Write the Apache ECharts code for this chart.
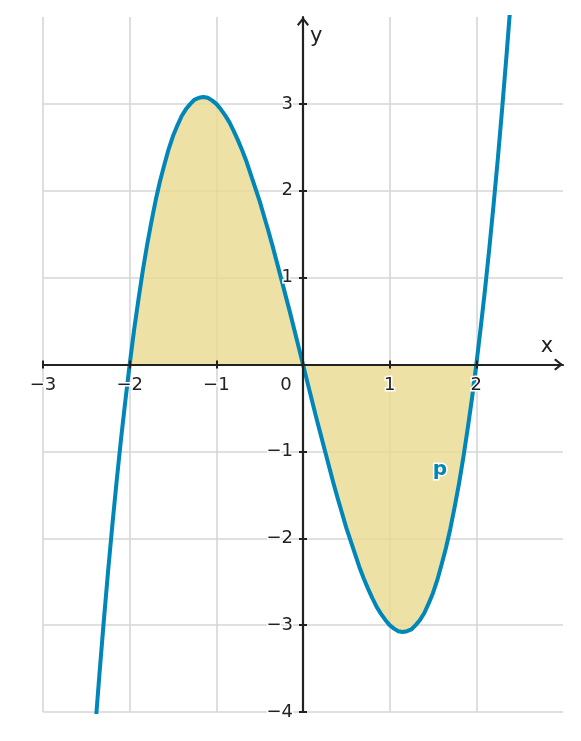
<!DOCTYPE html>
<html>
<head>
<meta charset="utf-8">
<script src="https://cdn.jsdelivr.net/npm/echarts@6/dist/echarts.min.js"></script>
<style>
  html, body { margin: 0; padding: 0; background: #fff; }
  #chart { width: 581px; height: 741px; }
</style>
</head>
<body>
<div id="chart"></div>
<script>
// points (every 0.05 on x)
const xValues = [
  -2.4, -2.35, -2.3, -2.25, -2.2, -2.15, -2.1, -2.05, -2.0, -1.95, -1.9, -1.85, -1.8, -1.75, -1.7, -1.65,
  -1.6, -1.55, -1.5, -1.45, -1.4, -1.35, -1.3, -1.25, -1.2, -1.15, -1.1, -1.05, -1.0, -0.95, -0.9, -0.85,
  -0.8, -0.75, -0.7, -0.65, -0.6, -0.55, -0.5, -0.45, -0.4, -0.35, -0.3, -0.25, -0.2, -0.15, -0.1, -0.05,
  0,
  0.05, 0.1, 0.15, 0.2, 0.25, 0.3, 0.35, 0.4, 0.45, 0.5, 0.55, 0.6, 0.65, 0.7, 0.75, 0.8,
  0.85, 0.9, 0.95, 1.0, 1.05, 1.1, 1.15, 1.2, 1.25, 1.3, 1.35, 1.4, 1.45, 1.5, 1.55, 1.6,
  1.65, 1.7, 1.75, 1.8, 1.85, 1.9, 1.95, 2.0, 2.05, 2.1, 2.15, 2.2, 2.25, 2.3, 2.35, 2.4];
const yValues = [
  -4.22, -3.58, -2.97, -2.39, -1.85, -1.34, -0.86, -0.42, 0, 0.39, 0.74, 1.07, 1.37, 1.64, 1.89, 2.11,
  2.30, 2.48, 2.63, 2.75, 2.86, 2.94, 3.00, 3.05, 3.07, 3.08, 3.07, 3.04, 3.00, 2.94, 2.87, 2.79,
  2.69, 2.58, 2.46, 2.33, 2.18, 2.03, 1.88, 1.71, 1.54, 1.36, 1.17, 0.98, 0.79, 0.60, 0.40, 0.20,
  0,
  -0.20, -0.40, -0.60, -0.79, -0.98, -1.17, -1.36, -1.54, -1.71, -1.88, -2.03, -2.18, -2.33, -2.46, -2.58, -2.69,
  -2.79, -2.87, -2.94, -3.00, -3.04, -3.07, -3.08, -3.07, -3.05, -3.00, -2.94, -2.86, -2.75, -2.63, -2.48, -2.30,
  -2.11, -1.89, -1.64, -1.37, -1.07, -0.74, -0.39, 0, 0.42, 0.86, 1.34, 1.85, 2.39, 2.97, 3.58, 4.22];
const shadeRange = [-2, 2];
const xTicks = [-3, -2, -1, 0, 1, 2];
const yTicks = [-4, -3, -2, -1, 1, 2, 3];
const curveLabel = [[1.58, -1.21]];

const curveData = xValues.map((x, i) => [x, yValues[i]]);
const shadeData = curveData.filter((p) => p[0] >= shadeRange[0] && p[0] <= shadeRange[1]);

const AXIS_COLOR = "#222222";
const GRID_COLOR = "#d6d6d6";
const BLUE = "#0086b8";
const FONT = "DejaVu Sans";
const arrow = "path://M6,0 L12,7.5 L10.4,9 L6,3.2 L1.6,9 L0,7.5 Z";

const fmt = (v) => (v < 0 ? "\u2212" + -v : String(v));
const labelStyle = {
  color: AXIS_COLOR,
  fontFamily: FONT,
  fontSize: 18,
  textBorderColor: "#fff",
  textBorderWidth: 3,
};
const tickStyle = { color: AXIS_COLOR, width: 2 };

const chart = echarts.init(document.getElementById("chart"));

const option = {
  animation: false,
  backgroundColor: "#fff",
  grid: { left: 43, right: 18, top: 17, bottom: 29, outerBoundsMode: "none", containLabel: false },
  xAxis: [
    {
      // grid lines only
      type: "value", min: -3, max: 3, interval: 1, position: "bottom", z: 0,
      axisLine: { show: false, onZero: false },
      axisTick: { show: false },
      axisLabel: { show: false },
      splitLine: { show: true, showMaxLine: false, lineStyle: { color: GRID_COLOR, width: 1.6 } },
    },
    {
      // main axis, moved onto y = 0 below
      type: "value", min: -3, max: 3, interval: 1, position: "bottom", z: 5, offset: 0,
      name: "x", nameLocation: "end", nameGap: -16,
      nameTextStyle: { color: AXIS_COLOR, fontFamily: FONT, fontSize: 21, align: "center", verticalAlign: "bottom", padding: [0, 0, 7, 0] },
      axisLine: {
        show: true, onZero: false,
        symbol: ["none", arrow], symbolSize: [12, 9], symbolOffset: [0, -4.5],
        lineStyle: { color: AXIS_COLOR, width: 2.2 },
      },
      axisTick: { show: true, length: 4, customValues: xTicks, lineStyle: tickStyle },
      axisLabel: {
        show: true, margin: 12, customValues: xTicks, ...labelStyle,
        formatter: (v) => (v === 0 ? "{o|0}" : fmt(v)),
        rich: { o: { ...labelStyle, padding: [0, 34, 0, 0] } },
      },
      splitLine: { show: false },
    },
    {
      // inner half of the crossing ticks
      type: "value", min: -3, max: 3, interval: 1, position: "bottom", z: 5, offset: 0,
      axisLine: { show: false, onZero: false },
      axisTick: { show: true, inside: true, length: 4, customValues: xTicks, lineStyle: tickStyle },
      axisLabel: { show: false },
      splitLine: { show: false },
    },
  ],
  yAxis: [
    {
      type: "value", min: -4, max: 4, interval: 1, position: "left", z: 0,
      axisLine: { show: false, onZero: false },
      axisTick: { show: false },
      axisLabel: { show: false },
      splitLine: { show: true, showMaxLine: false, lineStyle: { color: GRID_COLOR, width: 1.6 } },
    },
    {
      type: "value", min: -4, max: 4, interval: 1, position: "left", z: 5, offset: 0,
      name: "y", nameLocation: "end", nameGap: -20,
      nameTextStyle: { color: AXIS_COLOR, fontFamily: FONT, fontSize: 21, align: "left", verticalAlign: "middle", padding: [0, 0, 0, 7] },
      axisLine: {
        show: true, onZero: false,
        symbol: ["none", arrow], symbolSize: [12, 9], symbolOffset: [0, -4.5],
        lineStyle: { color: AXIS_COLOR, width: 2.2 },
      },
      axisTick: { show: true, length: 4, customValues: yTicks, lineStyle: tickStyle },
      axisLabel: { show: true, margin: 10, customValues: yTicks, ...labelStyle, formatter: fmt },
      splitLine: { show: false },
    },
    {
      type: "value", min: -4, max: 4, interval: 1, position: "left", z: 5, offset: 0,
      axisLine: { show: false, onZero: false },
      axisTick: { show: true, inside: true, length: 4, customValues: yTicks, lineStyle: tickStyle },
      axisLabel: { show: false },
      splitLine: { show: false },
    },
  ],
  series: [
    {
      type: "line", xAxisIndex: 0, yAxisIndex: 0, z: 1,
      data: shadeData, smooth: false, showSymbol: false, silent: true,
      lineStyle: { width: 0 },
      areaStyle: { color: "#e9da8f", opacity: 0.8, origin: 0 },
    },
    {
      type: "line", xAxisIndex: 0, yAxisIndex: 0, z: 2,
      data: curveData, smooth: false, showSymbol: false, clip: true,
      lineStyle: { color: BLUE, width: 4, join: "round" },
    },
    {
      type: "scatter", xAxisIndex: 0, yAxisIndex: 0, z: 6,
      data: curveLabel, symbolSize: 0, silent: true,
      itemStyle: { opacity: 1 },
      label: {
        show: true, position: "inside", formatter: "p",
        color: BLUE, fontFamily: FONT, fontSize: 20, fontWeight: "bold",
        textBorderColor: "#fff", textBorderWidth: 3,
      },
    },
  ],
};

chart.setOption(option);

// put the drawn axes through the origin: offset = distance from grid edge to zero
const rect = chart.getModel().getComponent("grid", 0).coordinateSystem.getRect();
const zeroX = chart.convertToPixel({ xAxisIndex: 0 }, 0);
const zeroY = chart.convertToPixel({ yAxisIndex: 0 }, 0);
const dy = zeroY - (rect.y + rect.height);
const dx = rect.x - zeroX;
chart.setOption({
  xAxis: [{}, { offset: dy }, { offset: dy }],
  yAxis: [{}, { offset: dx }, { offset: dx }],
});
</script>
</body>
</html>
